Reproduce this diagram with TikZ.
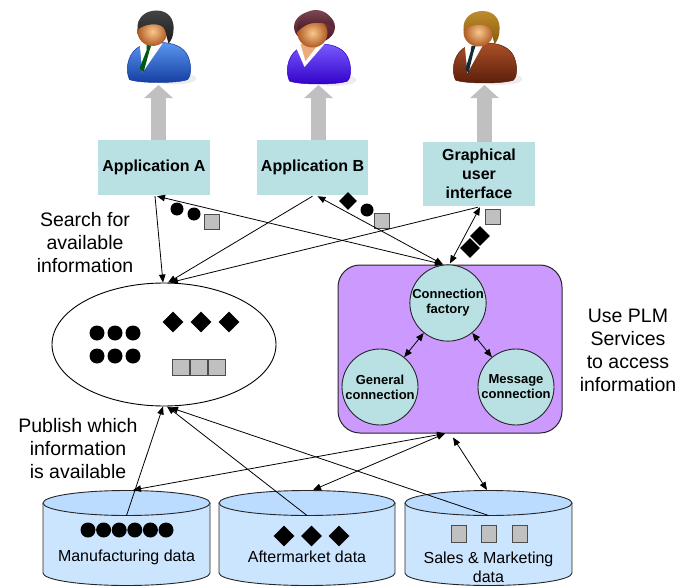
\documentclass[tikz,border=0pt]{standalone}
\usepackage{fontspec}
\setmainfont{Liberation Sans}
\usetikzlibrary{arrows.meta,shapes.geometric,calc}

\definecolor{appfill}{RGB}{185,224,227}
\definecolor{plmfill}{RGB}{204,153,255}
\definecolor{cylside}{RGB}{204,229,255}
\definecolor{cyltopc}{RGB}{187,220,255}
\definecolor{greyarrow}{RGB}{192,192,192}
\definecolor{tokgrey}{RGB}{192,192,192}
\definecolor{skin}{RGB}{230,150,90}
\definecolor{skinlight}{RGB}{250,200,140}
\definecolor{skindark}{RGB}{175,90,35}
\definecolor{suitAl}{RGB}{90,150,240}
\definecolor{suitAd}{RGB}{20,60,160}
\definecolor{suitBl}{RGB}{120,90,255}
\definecolor{suitBd}{RGB}{50,0,200}
\definecolor{suitCl}{RGB}{170,80,40}
\definecolor{suitCd}{RGB}{90,30,10}
\definecolor{tieA}{RGB}{0,90,20}
\definecolor{tieC}{RGB}{15,45,55}
\definecolor{hairA}{RGB}{35,35,35}
\definecolor{hairB}{RGB}{90,25,40}
\definecolor{hairC}{RGB}{180,120,10}

\begin{document}
\begin{tikzpicture}[x=1pt,y=-1pt,
  appbox/.style={rectangle, fill=appfill, inner sep=0, align=center,
    font=\bfseries\fontsize{16}{19}\selectfont},
  svc/.style={circle, draw=black!85, line width=0.9, fill=appfill, minimum size=76,
    inner sep=0, align=center, font=\bfseries\fontsize{13}{15}\selectfont},
  note/.style={align=center, inner sep=0, font=\fontsize{19.5}{23}\selectfont},
  cyllabel/.style={align=center, inner sep=0, font=\fontsize{16}{19}\selectfont},
  flow/.style={line width=0.8, -{Triangle[length=8pt,width=6.5pt]}},
  twoway/.style={line width=0.8, {Triangle[length=8pt,width=6.5pt]}-{Triangle[length=8pt,width=6.5pt]}},
  uparrow/.style={draw=greyarrow, line width=15pt, -{Triangle[length=13pt,width=28pt]}},
  tokdot/.style={circle, fill=black, inner sep=0, minimum size=13},
  tokdia/.style={diamond, fill=black, inner sep=0, minimum size=19},
  toksq/.style={rectangle, fill=tokgrey, draw=black!70, line width=0.8, inner sep=0, minimum size=15},
  cylbody/.style={fill=cylside, draw=black!85, line width=0.9},
  cyltop/.style={fill=cyltopc, draw=black!85, line width=0.9},
  pics/plmsuit/.style 2 args={code={
    \fill[black!7] (16,47) ellipse[x radius=22,y radius=6];
    \path[draw=#2, line width=0.5, top color=#1, bottom color=#2]
      (-29,48) .. controls (-33,40) and (-32,25) .. (-22,17)
      .. controls (-17,13) and (-11,11) .. (-6,11) -- (2,11)
      .. controls (14,11) and (26,15) .. (30,26)
      .. controls (33,34) and (33,44) .. (29,48)
      .. controls (20,52) and (-20,52) .. (-29,48) -- cycle;
  }},
  pics/plmface/.style={code={
    \shade[inner color=skinlight, outer color=skindark]
      (-6,0) ellipse[x radius=15,y radius=14.5];
  }},
  pics/plmhair/.style={code={
    \shade[top color=#1!85!white, bottom color=#1!75!black]
      (-21,-2) .. controls (-22,-14) and (-13,-21) .. (-2,-21)
      .. controls (10,-21) and (16,-12) .. (15,-2)
      .. controls (15,4) and (13,9) .. (10,12)
      .. controls (8,6) and (8,0) .. (5,-4)
      .. controls (0,-9) and (-13,-8) .. (-21,-2) -- cycle;
  }},
]
\useasboundingbox (0,0) rectangle (688,586);

% ---- users ----
\begin{scope}[shift={(158.5,31.5)}]
  \pic {plmsuit={suitAl}{suitAd}};
  \fill[white] (-19,11) -- (4,12) -- (-16,41) -- cycle;
  \fill[tieA] (-12,13) -- (-7,13) -- (-9,19) -- (-15,41) -- (-19,37) -- (-12,19) -- cycle;
  \pic {plmface};
  \pic {plmhair=hairA};
\end{scope}
\begin{scope}[shift={(318.5,33)}]
  \shade[top color=hairB!80!white, bottom color=hairB!80!black]
    (-4,-6) ellipse[x radius=20.5,y radius=16];
  \pic {plmsuit={suitBl}{suitBd}};
  \fill[white] (-24,11) -- (6,11) -- (-14,34) -- cycle;
  \fill[skin!80!white] (-18,11) -- (0,11) -- (-13,28) -- cycle;
  \pic {plmface};
  \shade[top color=hairB!80!white, bottom color=hairB!80!black]
    (-21,-1) .. controls (-23,-15) and (-12,-23) .. (-3,-23)
    .. controls (8,-23) and (15,-15) .. (15,-6)
    .. controls (8,-11) and (-6,-12) .. (-14,-7)
    .. controls (-17,-5) and (-20,-3) .. (-21,-1) -- cycle;
\end{scope}
\begin{scope}[shift={(484.5,32)}]
  \pic {plmsuit={suitCl}{suitCd}};
  \fill[white] (-20,11) -- (-1,12) -- (-17,41) -- cycle;
  \fill[tieC] (-13,14) -- (-9,14) -- (-11,20) -- (-16,41) -- (-19,37) -- (-14,20) -- cycle;
  \pic {plmface};
  \pic {plmhair=hairC};
\end{scope}
\coordinate (userA) at (158.5,85);
\coordinate (userB) at (318.5,85);
\coordinate (userC) at (484.5,85);

% ---- applications ----
\node[appbox, minimum width=112, minimum height=55] (appA) at (154,167.5) {Application A};
\node[appbox, minimum width=111, minimum height=55] (appB) at (312.5,167.5) {Application B};
\node[appbox, minimum width=112, minimum height=64] (gui) at (479,174) {Graphical\\user\\interface};

\draw[uparrow] (appA.north -| userA) -- (userA);
\draw[uparrow] (appB.north -| userB) -- (userB);
\draw[uparrow] (gui.north -| userC) -- (userC);

% ---- information pool ----
\node[ellipse, draw, line width=0.9, fill=white, minimum width=224, minimum height=123, inner sep=0]
  (pool) at (164,344.5) {};
\foreach \i/\x/\y in {1/97/333, 2/115/333, 3/133/333, 4/97/356, 5/115/356, 6/133/356}
  \node[tokdot, minimum size=15] (pooldot\i) at (\x,\y) {};
\foreach \i/\x in {1/173, 2/201, 3/229}
  \node[tokdia, minimum size=21] (pooldia\i) at (\x,322) {};
\foreach \i/\x in {1/181, 2/199, 3/217}
  \node[toksq, minimum width=17, minimum height=16] (poolsq\i) at (\x,367) {};

% ---- PLM services ----
\node[rectangle, rounded corners=22, draw=black!85, line width=1, fill=plmfill,
  minimum width=224, minimum height=168, inner sep=0] (plm) at (450,349) {};
\node[svc] (factory) at (448,303) {Connection\\factory};
\node[svc] (general) at (380,387) {General\\connection};
\node[svc] (message) at (516,387) {Message\\connection};
\draw[twoway] (factory) -- (general);
\draw[twoway] (factory) -- (message);

% ---- notes ----
\node[note] (search) at (85,243) {Search for\\available\\information};
\node[note] (publish) at (78,449) {Publish which\\information\\is available};
\node[note] (usenote) at (628,350) {Use PLM\\Services\\to access\\information};

% ---- data stores ----
\foreach \n/\cx/\r in {mfg/126.5/83.5, aft/307/88, sal/488.5/83.5}{
  \path[cylbody] (\cx-\r,503) -- (\cx-\r,573)
    arc[start angle=180, end angle=0, x radius=\r, y radius=12.5] -- (\cx+\r,503);
  \path[cyltop] (\cx,503) ellipse[x radius=\r, y radius=12.5];
  \coordinate (\n-front) at (\cx,515.5);
}
\coordinate (mfg-back) at (133,490);
\coordinate (aft-back) at (313,490);
\coordinate (sal-back) at (487,490);

\foreach \i in {0,...,5}
  \node[tokdot, minimum size=15] (mfgdot\i) at ({88+15.6*\i},530) {};
\foreach \i/\x in {1/284, 2/311.5, 3/339}
  \node[tokdia, minimum size=21] (aftdia\i) at (\x,536) {};
\foreach \i/\x in {1/459, 2/489, 3/520}
  \node[toksq, minimum width=15, minimum height=17] (salsq\i) at (\x,534) {};

\node[cyllabel] (mfglabel) at (126.5,557) {Manufacturing data};
\node[cyllabel] (aftlabel) at (307,557) {Aftermarket data};
\node[cyllabel] (sallabel) at (488.5,567) {Sales \& Marketing\\data};

% ---- message tokens ----
\node[tokdot] (tokA1) at (177,209) {};
\node[tokdot] (tokA2) at (194,214) {};
\node[toksq] (tokA3) at (212,222) {};
\node[tokdia, minimum size=18] (tokB1) at (348,201) {};
\node[tokdot] (tokB2) at (367,210) {};
\node[toksq] (tokB3) at (382,221) {};
\node[toksq] (tokC1) at (493,217) {};
\node[tokdia, minimum size=20] (tokC2) at (480,236) {};
\node[tokdia, minimum size=20] (tokC3) at (470,248) {};

% ---- connectors: applications ----
\draw[flow] ($(appA.south)+(1,1)$) -- ($(pool.north)+(-1,0)$);
\draw[flow] ($(appB.south)+(0,1)$) -- ($(pool.north)+(4,0)$);
\draw[flow] ($(gui.south)+(-1,1)$) -- ($(pool.north)+(6,0)$);
\draw[twoway] ($(factory.north)+(-5,0)$) -- ($(appA.south)+(3,1)$);
\draw[twoway] ($(factory.north)+(-5,0)$) -- ($(appB.south)+(5,1)$);
\draw[twoway] ($(factory.north)+(2,-1)$) -- ($(gui.south)+(1,1)$);

% ---- connectors: data stores ----
\draw[flow] (mfg-front) -- ($(pool.south)+(-1,0)$);
\draw[flow] (aft-front) -- ($(pool.south)+(3,0)$);
\draw[flow] (sal-front) -- ($(pool.south)+(6,1)$);
\draw[twoway] ($(plm.south)+(-5,0)$) -- (mfg-back);
\draw[twoway] ($(plm.south)+(-5,0)$) -- (aft-back);
\draw[twoway] ($(plm.south)+(3,4)$) -- (sal-back);
\end{tikzpicture}
\end{document}
